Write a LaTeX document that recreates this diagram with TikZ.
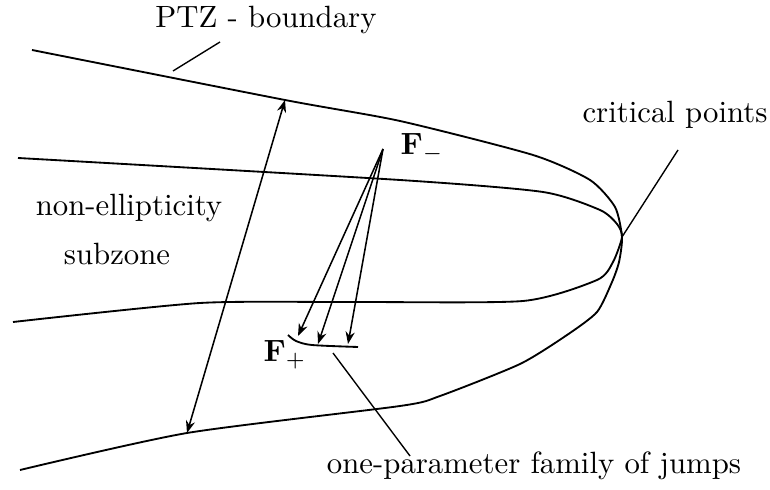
\documentclass[tikz,border=0pt]{standalone}
\usetikzlibrary{arrows.meta}
\begin{document}
\begin{tikzpicture}[x=0.325pt,y=-0.325pt,
  curve/.style={line width=0.6pt},
  lead/.style={line width=0.45pt},
  jump/.style={line width=0.5pt,-{Stealth[length=4pt,width=3pt]}},
  both/.style={line width=0.5pt,{Stealth[length=4pt,width=3pt]}-{Stealth[length=4pt,width=3pt]}},
  lbl/.style={inner sep=0pt,anchor=base}]
\useasboundingbox (0,0) rectangle (770,490);
% outer PTZ boundary
\draw[curve] plot[smooth,tension=0.4] coordinates {(32,50) (285,100) (400,121) (533,155) (590,180) (615,207) (622,237) (619,262) (612,282) (597,312) (567,335) (520,364) (440,396) (400,406) (187,433) (20,470)};
% inner non-ellipticity boundary
\draw[curve] plot[smooth,tension=0.4] coordinates {(18,158) (400,180) (543,192) (600,210) (617,224) (622,237) (613,262) (597,280) (523,301) (350,302) (200,303) (13,322)};
% F+ family
\draw[curve] plot[smooth,tension=0.5] coordinates {(288,335) (296,341) (312,345) (358,347)};
% labels
\node[lbl] (ptz) at (266,28) {PTZ - boundary};
\node[lbl] (crit) at (675,123) {critical points};
\node[lbl] (nonell) at (129,216) {non-ellipticity};
\node[lbl] (subz) at (117,265) {subzone};
\node[lbl] (jumps) at (534,474) {one-parameter family of jumps};
\node[lbl,anchor=base west] (Fm) at (400,155) {$\mathbf{F}_-$};
\node[lbl,anchor=base west] (Fp) at (263,362) {$\mathbf{F}_+$};
% points
\coordinate (ptzA) at (220,42);
\coordinate (ptzB) at (173,71);
\coordinate (critA) at (678,150);
\coordinate (critB) at (622,237);
\coordinate (jumpA) at (333,353);
\coordinate (jumpB) at (410,456);
\coordinate (top) at (285,100);
\coordinate (bot) at (187,433);
\coordinate (src) at (383,149);
\coordinate (t1) at (298,336);
\coordinate (t2) at (318,344);
\coordinate (t3) at (348,344);
% leaders
\draw[lead] (ptzA) -- (ptzB);
\draw[lead] (critA) -- (critB);
\draw[lead] (jumpA) -- (jumpB);
% arrows
\draw[both] (top) -- (bot);
\draw[jump] (src) -- (t1);
\draw[jump] (src) -- (t2);
\draw[jump] (src) -- (t3);
\end{tikzpicture}
\end{document}
